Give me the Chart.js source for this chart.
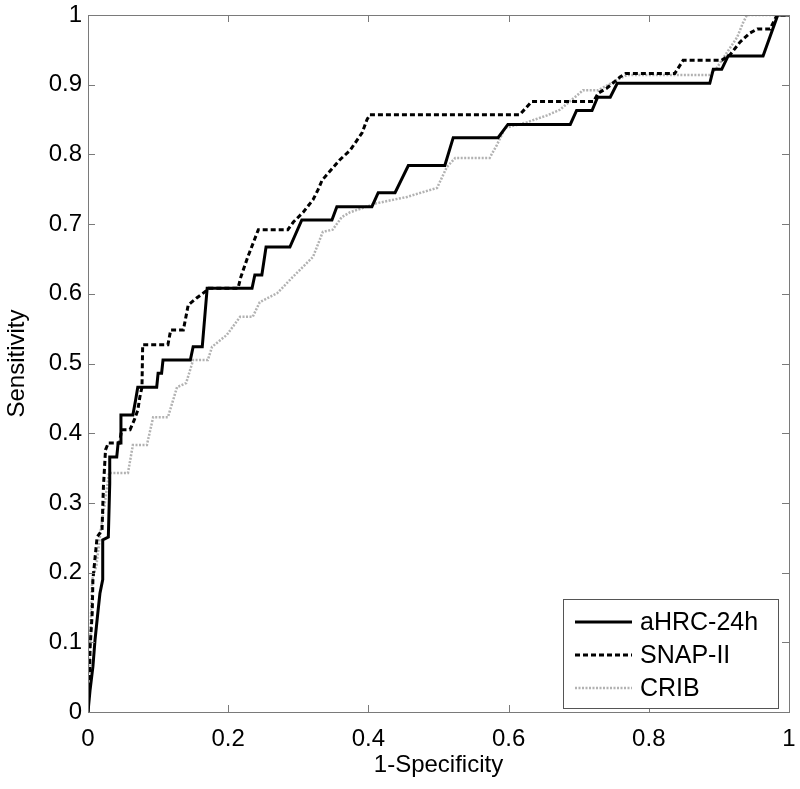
<!DOCTYPE html>
<html>
<head>
<meta charset="utf-8">
<script src="https://cdn.jsdelivr.net/npm/chart.js@4.4.1/dist/chart.umd.min.js"></script>
<style>
  html, body { margin: 0; padding: 0; background: #fff; }
  canvas { display: block; }
</style>
</head>
<body>
<canvas id="roc" width="800" height="789"></canvas>
<script>
const seriesNames = ['aHRC-24h', 'SNAP-II', 'CRIB']

// points (1-specificity, sensitivity)
const ahrcX = [0, 0.003, 0.007, 0.010, 0.014, 0.017, 0.021, 0.021, 0.029, 0.031, 0.031, 0.041, 0.043, 0.046, 0.047, 0.064, 0.068, 0.071, 0.098, 0.100, 0.105, 0.107, 0.146, 0.150, 0.163, 0.170, 0.234, 0.238, 0.248, 0.254, 0.288, 0.305, 0.348, 0.355, 0.405, 0.414, 0.438, 0.457, 0.509, 0.521, 0.585, 0.599, 0.688, 0.697, 0.719, 0.727, 0.745, 0.755, 0.887, 0.892, 0.904, 0.913, 0.963, 0.984, 1.0]
const ahrcY = [0, 0.032, 0.065, 0.103, 0.142, 0.170, 0.190, 0.247, 0.251, 0.328, 0.366, 0.366, 0.386, 0.386, 0.426, 0.426, 0.448, 0.466, 0.466, 0.486, 0.486, 0.505, 0.505, 0.524, 0.524, 0.608, 0.608, 0.627, 0.627, 0.667, 0.667, 0.706, 0.706, 0.725, 0.725, 0.745, 0.745, 0.784, 0.784, 0.824, 0.824, 0.843, 0.843, 0.863, 0.863, 0.882, 0.882, 0.902, 0.902, 0.922, 0.922, 0.941, 0.941, 1.0, 1.0]

const snapX = [0, 0.002, 0.003, 0.006, 0.007, 0.013, 0.020, 0.022, 0.025, 0.029, 0.045, 0.048, 0.060, 0.066, 0.071, 0.074, 0.077, 0.078, 0.114, 0.118, 0.136, 0.143, 0.155, 0.167, 0.172, 0.214, 0.218, 0.228, 0.243, 0.285, 0.293, 0.307, 0.321, 0.328, 0.334, 0.359, 0.374, 0.391, 0.398, 0.402, 0.616, 0.633, 0.721, 0.728, 0.740, 0.759, 0.767, 0.837, 0.849, 0.904, 0.916, 0.930, 0.944, 0.955, 0.973, 0.983, 1.0]
const snapY = [0, 0.046, 0.093, 0.142, 0.190, 0.251, 0.261, 0.323, 0.376, 0.386, 0.386, 0.405, 0.405, 0.419, 0.433, 0.452, 0.466, 0.527, 0.527, 0.548, 0.548, 0.584, 0.594, 0.603, 0.608, 0.608, 0.624, 0.653, 0.692, 0.692, 0.703, 0.717, 0.735, 0.749, 0.763, 0.792, 0.806, 0.831, 0.850, 0.857, 0.857, 0.876, 0.876, 0.888, 0.895, 0.911, 0.916, 0.916, 0.935, 0.935, 0.943, 0.961, 0.974, 0.980, 0.980, 1.0, 1.0]

const cribX = [0, 0.002, 0.004, 0.006, 0.012, 0.018, 0.024, 0.030, 0.057, 0.064, 0.084, 0.093, 0.114, 0.127, 0.140, 0.150, 0.171, 0.177, 0.198, 0.217, 0.235, 0.245, 0.270, 0.292, 0.321, 0.335, 0.349, 0.362, 0.374, 0.412, 0.455, 0.498, 0.512, 0.524, 0.573, 0.583, 0.595, 0.626, 0.655, 0.673, 0.698, 0.706, 0.728, 0.755, 0.769, 0.887, 0.897, 0.912, 0.926, 0.934, 0.940, 1.0]
const cribY = [0, 0.060, 0.130, 0.190, 0.210, 0.260, 0.300, 0.343, 0.343, 0.383, 0.383, 0.423, 0.423, 0.466, 0.472, 0.505, 0.505, 0.524, 0.541, 0.567, 0.567, 0.588, 0.601, 0.624, 0.653, 0.689, 0.692, 0.710, 0.717, 0.730, 0.739, 0.752, 0.782, 0.795, 0.795, 0.813, 0.838, 0.846, 0.856, 0.864, 0.885, 0.892, 0.892, 0.907, 0.914, 0.914, 0.924, 0.947, 0.968, 0.988, 1.0, 1.0]

const FONT = '"Liberation Sans", Arial, Helvetica, sans-serif'
const toPoints = (xs, ys) => xs.map((x, i) => ({ x, y: ys[i] }))
const fmt = v => String(Math.round(v * 10) / 10)

// drop the label overhang padding so the layout padding alone places the plot box
const noOverhang = s => { s.paddingTop = 0; s.paddingBottom = 0; s.paddingLeft = 0; s.paddingRight = 0 }

// MATLAB style box: grey frame with inward ticks on all four sides
const boxPlugin = {
  id: 'matlabBox',
  afterDatasetsDraw(chart) {
    const { ctx, chartArea: a, scales } = chart
    ctx.save()
    ctx.strokeStyle = '#7a7a7a'
    ctx.lineWidth = 1
    ctx.beginPath()
    const tl = 7
    scales.x.ticks.forEach(t => {
      const px = Math.round(scales.x.getPixelForValue(t.value)) + 0.5
      ctx.moveTo(px, a.bottom); ctx.lineTo(px, a.bottom - tl)
      ctx.moveTo(px, a.top); ctx.lineTo(px, a.top + tl)
    })
    scales.y.ticks.forEach(t => {
      const py = Math.round(scales.y.getPixelForValue(t.value)) + 0.5
      ctx.moveTo(a.left, py); ctx.lineTo(a.left + tl, py)
      ctx.moveTo(a.right, py); ctx.lineTo(a.right - tl, py)
    })
    ctx.stroke()
    ctx.strokeRect(Math.round(a.left) + 0.5, Math.round(a.top) + 0.5,
      Math.round(a.right - a.left), Math.round(a.bottom - a.top))
    ctx.restore()
  }
}

// legend box sitting in the lower right corner of the plot
const legendPlugin = {
  id: 'boxLegend',
  afterDraw(chart) {
    const { ctx, chartArea: a } = chart
    const w = 215, h = 109
    const x0 = a.right - 11 - w, y0 = a.bottom - 4 - h
    ctx.save()
    ctx.fillStyle = '#fff'
    ctx.fillRect(x0, y0, w, h)
    ctx.strokeStyle = '#555'
    ctx.lineWidth = 1
    ctx.strokeRect(x0 + 0.5, y0 + 0.5, w, h)
    ctx.font = '25px ' + FONT
    ctx.textBaseline = 'middle'
    chart.data.datasets.forEach((ds, i) => {
      const cy = y0 + 23 + i * 33
      ctx.strokeStyle = ds.borderColor
      ctx.lineWidth = ds.borderWidth
      ctx.setLineDash(ds.borderDash || [])
      ctx.beginPath()
      ctx.moveTo(x0 + 12, cy); ctx.lineTo(x0 + 69, cy)
      ctx.stroke()
      ctx.setLineDash([])
      ctx.fillStyle = '#000'
      ctx.fillText(ds.label, x0 + 77, cy + 1)
    })
    ctx.restore()
  }
}

const data = {
  datasets: [
    { label: seriesNames[0], data: toPoints(ahrcX, ahrcY), borderColor: '#000', borderWidth: 3, order: 1 },
    { label: seriesNames[1], data: toPoints(snapX, snapY), borderColor: '#000', borderWidth: 3, borderDash: [5, 3], order: 2 },
    { label: seriesNames[2], data: toPoints(cribX, cribY), borderColor: '#b2b2b2', borderWidth: 2.5, borderDash: [2, 1.5], order: 3 },
  ].map(d => Object.assign({ showLine: true, pointRadius: 0, tension: 0, fill: false }, d))
}

const axisFont = { family: FONT, size: 24 }

new Chart(document.getElementById('roc').getContext('2d'), {
  type: 'scatter',
  data,
  options: {
    responsive: false,
    animation: false,
    devicePixelRatio: 1,
    layout: { padding: { top: 15, right: 11, left: 0, bottom: 0 } },
    plugins: { legend: { display: false }, tooltip: { enabled: false } },
    scales: {
      x: {
        type: 'linear', min: 0, max: 1,
        afterFit(s) { s.height = 77; noOverhang(s) },
        ticks: { stepSize: 0.2, color: '#000', font: axisFont, padding: 13, maxRotation: 0, callback: fmt },
        grid: { drawOnChartArea: false, drawTicks: false },
        border: { display: false },
        title: { display: true, text: '1-Specificity', color: '#000', font: axisFont, padding: { top: 0, bottom: 9 } },
      },
      y: {
        type: 'linear', min: 0, max: 1,
        afterFit(s) { s.width = 88; noOverhang(s) },
        ticks: { stepSize: 0.1, color: '#000', font: axisFont, padding: 6, callback: fmt },
        grid: { drawOnChartArea: false, drawTicks: false },
        border: { display: false },
        title: { display: true, text: 'Sensitivity', color: '#000', font: axisFont, padding: { top: 3, bottom: 0 } },
      },
    },
  },
  plugins: [boxPlugin, legendPlugin],
})
</script>
</body>
</html>
